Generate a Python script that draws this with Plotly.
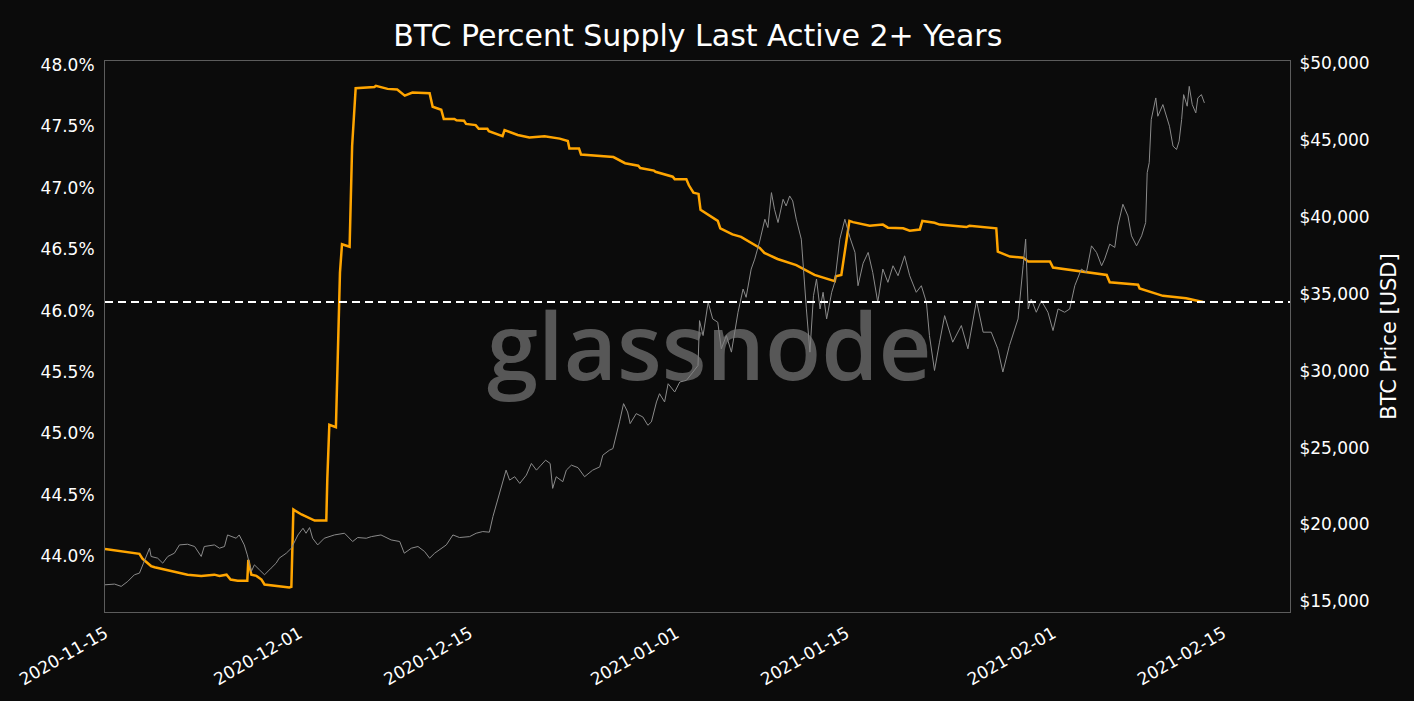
import pandas as pd
import plotly.graph_objects as go

# ---------------- data ----------------
supply_dates = [
    "2020-11-15 00:00", "2020-11-17 20:00", "2020-11-18 02:00", "2020-11-18 19:00", "2020-11-19 02:00",
    "2020-11-21 19:00", "2020-11-22 22:00", "2020-11-24 00:00", "2020-11-24 10:00", "2020-11-25 00:00",
    "2020-11-25 08:00", "2020-11-25 22:00", "2020-11-26 17:00", "2020-11-26 19:00", "2020-11-27 01:00",
    "2020-11-27 11:00", "2020-11-27 21:00", "2020-11-28 03:00", "2020-11-30 04:00", "2020-11-30 08:00",
    "2020-11-30 12:00", "2020-12-01 04:00", "2020-12-02 06:00", "2020-12-03 05:00", "2020-12-03 07:00",
    "2020-12-03 11:00", "2020-12-04 00:00", "2020-12-04 04:00", "2020-12-04 07:00", "2020-12-04 08:00",
    "2020-12-04 12:00", "2020-12-05 03:00", "2020-12-05 08:00", "2020-12-05 15:00", "2020-12-07 04:00",
    "2020-12-07 07:00", "2020-12-08 06:00", "2020-12-09 01:00", "2020-12-09 16:00", "2020-12-10 07:00",
    "2020-12-11 17:00", "2020-12-11 23:00", "2020-12-12 16:00", "2020-12-12 21:00", "2020-12-13 18:00",
    "2020-12-13 22:00", "2020-12-14 13:00", "2020-12-14 17:00", "2020-12-15 12:00", "2020-12-15 18:00",
    "2020-12-16 11:00", "2020-12-16 14:00", "2020-12-17 17:00", "2020-12-17 21:00", "2020-12-18 23:00",
    "2020-12-19 22:00", "2020-12-21 04:00", "2020-12-22 10:00", "2020-12-23 02:00", "2020-12-23 05:00",
    "2020-12-24 00:00", "2020-12-24 04:00", "2020-12-26 20:00", "2020-12-27 19:00", "2020-12-28 21:00",
    "2020-12-29 01:00", "2020-12-30 04:00", "2020-12-30 07:00", "2020-12-31 17:00", "2020-12-31 21:00",
    "2021-01-01 20:00", "2021-01-02 01:00", "2021-01-02 10:00", "2021-01-02 20:00", "2021-01-03 00:00",
    "2021-01-04 10:00", "2021-01-04 15:00", "2021-01-05 15:00", "2021-01-06 08:00", "2021-01-07 07:00",
    "2021-01-07 21:00", "2021-01-08 06:00", "2021-01-09 08:00", "2021-01-10 21:00", "2021-01-12 09:00",
    "2021-01-14 01:00", "2021-01-14 03:00", "2021-01-14 14:00", "2021-01-15 06:00", "2021-01-15 13:00",
    "2021-01-16 15:00", "2021-01-16 22:00", "2021-01-18 00:00", "2021-01-18 10:00", "2021-01-19 16:00",
    "2021-01-20 05:00", "2021-01-21 01:00", "2021-01-21 06:00", "2021-01-22 06:00", "2021-01-22 16:00",
    "2021-01-24 21:00", "2021-01-25 03:00", "2021-01-27 08:00", "2021-01-27 11:00", "2021-01-28 11:00",
    "2021-01-29 13:00", "2021-01-29 23:00", "2021-01-31 18:00", "2021-02-01 00:00", "2021-02-03 05:00",
    "2021-02-04 14:00", "2021-02-05 10:00", "2021-02-05 16:00", "2021-02-08 00:00", "2021-02-08 03:00",
    "2021-02-10 01:00", "2021-02-11 23:00", "2021-02-13 08:00",
]
supply_pct = [
    44.06, 44.02, 43.98, 43.92, 43.91,
    43.85, 43.84, 43.85, 43.84, 43.85,
    43.81, 43.80, 43.80, 43.97, 43.85,
    43.84, 43.81, 43.77, 43.745, 43.75,
    44.38, 44.34, 44.29, 44.29, 44.63,
    45.07, 45.05, 45.75, 46.07, 46.31,
    46.54, 46.52, 47.34, 47.81, 47.82,
    47.83, 47.805, 47.80, 47.75, 47.775,
    47.77, 47.66, 47.635, 47.56, 47.56,
    47.55, 47.545, 47.52, 47.51, 47.48,
    47.48, 47.46, 47.42, 47.47, 47.43,
    47.41, 47.42, 47.40, 47.38, 47.32,
    47.32, 47.27, 47.25, 47.20, 47.18,
    47.16, 47.14, 47.13, 47.09, 47.07,
    47.07, 47.02, 46.96, 46.95, 46.82,
    46.73, 46.67, 46.62, 46.60, 46.54,
    46.51, 46.47, 46.42, 46.37, 46.29,
    46.24, 46.28, 46.29, 46.73, 46.72,
    46.70, 46.69, 46.70, 46.675, 46.67,
    46.65, 46.66, 46.73, 46.715, 46.70,
    46.68, 46.69, 46.67, 46.48, 46.44,
    46.43, 46.40, 46.40, 46.35, 46.32,
    46.30, 46.29, 46.23, 46.21, 46.18,
    46.12, 46.10, 46.07,
]

# BTC price: hours after 2020-11-15 00:00 and USD value
price_hours = [
    0, 19, 32, 45, 58, 68, 76, 84, 88, 91, 104, 114, 124, 137, 147, 163, 177, 190, 196, 216,
    226, 236, 242, 259, 265, 275, 281, 289, 295, 305, 315, 328, 338, 344, 358, 368, 381, 391, 397, 404,
    410, 420, 433, 453, 473, 489, 499, 516, 526, 545, 565, 582, 591, 605, 618, 631, 641, 651, 661, 674,
    687, 700, 720, 733, 746, 759, 766, 776, 786, 792, 799, 809, 819, 832, 842, 852, 861, 870, 879, 884,
    891, 904, 911, 921, 934, 947, 963, 977, 983, 996, 1003, 1010, 1016, 1024, 1032, 1037, 1049, 1062, 1072, 1079,
    1089, 1095, 1105, 1112, 1125, 1135, 1148, 1161, 1171, 1174, 1181, 1191, 1200, 1210, 1217, 1227, 1237, 1250, 1260, 1266,
    1276, 1283, 1293, 1303, 1309, 1316, 1322, 1329, 1339, 1345, 1352, 1358, 1365, 1375, 1382, 1385, 1392, 1399, 1405, 1412,
    1418, 1425, 1435, 1441, 1451, 1461, 1471, 1481, 1487, 1497, 1507, 1516, 1526, 1536, 1546, 1556, 1566, 1579, 1589, 1602,
    1612, 1622, 1628, 1638, 1648, 1658, 1674, 1691, 1704, 1721, 1734, 1750, 1763, 1773, 1786, 1803, 1813, 1818, 1823, 1829,
    1839, 1849, 1862, 1872, 1882, 1895, 1905, 1915, 1928, 1938, 1948, 1958, 1968, 1974, 1984, 1994, 2000, 2010, 2020, 2027,
    2037, 2047, 2055, 2058, 2062, 2066, 2075, 2079, 2089, 2096, 2102, 2109, 2116, 2121, 2126, 2130, 2137, 2141, 2147, 2154,
    2158, 2165, 2171,
]
price_usd = [
    16077, 16122, 15973, 16297, 16726, 16836, 17485, 18133, 18458, 17919, 17809, 17485, 17919, 18133, 18672, 18717, 18568, 17919, 18568, 18672,
    18458, 18568, 19320, 19106, 19320, 18672, 18023, 16946, 17374, 17050, 16726, 17160, 17485, 17809, 18133, 18458, 19320, 19755, 19431, 19800,
    19106, 18672, 19106, 19320, 19431, 18892, 19152, 19106, 19212, 19320, 18996, 18892, 18133, 18458, 18568, 18244, 17809, 18133, 18347, 18672,
    19320, 19152, 19212, 19431, 19541, 19500, 20514, 21701, 22998, 23537, 22890, 23109, 22674, 23213, 23972, 23537, 23862, 24186, 23972, 22350,
    23109, 22785, 23537, 23862, 23700, 23109, 23537, 23750, 24510, 24834, 24940, 25807, 26677, 27864, 27323, 26566, 27215, 27000, 26456, 26677,
    27974, 28512, 27974, 29161, 28623, 29271, 29380, 29920, 30349, 33268, 32295, 34461, 33378, 33163, 31432, 32295, 31217, 33812, 35324, 34785,
    36622, 37270, 38457, 39865, 39325, 41596, 40514, 39650, 41163, 40730, 41380, 41055, 39865, 38568, 35110, 34027, 31217, 34890, 35973, 34027,
    35110, 33378, 35110, 35758, 38568, 39865, 38677, 37705, 35538, 37000, 37705, 36406, 34461, 36622, 35758, 36838, 36189, 37484, 36189, 35110,
    35538, 34461, 32295, 30024, 31865, 33592, 31865, 32946, 31432, 34565, 32515, 32515, 31432, 29920, 31647, 33378, 36838, 38568, 34027, 34675,
    33812, 34565, 33812, 32620, 34027, 33812, 34027, 35538, 36622, 36406, 38133, 37700, 36838, 37270, 38244, 38030, 39430, 40838, 40080, 38784,
    38133, 38784, 39650, 42894, 43543, 46351, 47759, 46567, 47326, 46567, 45918, 44621, 44405, 44945, 46351, 47974, 47220, 48512, 47326, 46787,
    47759, 47974, 47434,
]

x_tick_vals = ["2020-11-15", "2020-12-01", "2020-12-15", "2021-01-01", "2021-01-15", "2021-02-01", "2021-02-15"]
left_tick_vals = [44.0, 44.5, 45.0, 45.5, 46.0, 46.5, 47.0, 47.5, 48.0]
right_tick_vals = [15000, 20000, 25000, 30000, 35000, 40000, 45000, 50000]

# ---------------- figure ----------------
BG = "#0b0b0b"
FONT = "DejaVu Sans"

price_time = pd.Timestamp("2020-11-15") + pd.to_timedelta(price_hours, unit="h")

fig = go.Figure()
fig.add_trace(go.Scatter(
    x=price_time, y=price_usd, yaxis="y2", mode="lines",
    line=dict(color="#8a8a8a", width=1), hoverinfo="skip", showlegend=False,
))
fig.add_trace(go.Scatter(
    x=pd.to_datetime(supply_dates), y=supply_pct, mode="lines",
    line=dict(color="#FFA500", width=2.5), showlegend=False,
))

fig.add_shape(type="line", xref="paper", x0=0, x1=1, yref="y",
              y0=supply_pct[-1], y1=supply_pct[-1],
              line=dict(color="white", width=2, dash="8px,5px"))

fig.add_annotation(text="glassnode", xref="paper", yref="paper", x=0.51, y=0.486,
                   showarrow=False, xanchor="center", yanchor="middle",
                   font=dict(family="Open Sans", size=92, weight=600, color="rgba(128,128,128,0.66)"))

fig.update_layout(
    width=1414, height=701,
    paper_bgcolor=BG, plot_bgcolor=BG,
    margin=dict(l=105, r=124, t=61, b=87),
    font=dict(family=FONT, color="white", size=17),
    title=dict(text="BTC Percent Supply Last Active 2+ Years", x=0.4935, xanchor="center",
               y=0.95, yanchor="middle", font=dict(size=30, family=FONT, color="white")),
    xaxis=dict(
        type="date", range=["2020-11-15", "2021-02-20 12:00"],
        tickvals=x_tick_vals, tickformat="%Y-%m-%d", tickangle=-30,
        showgrid=False, zeroline=False,
        showline=True, linecolor="#5c5c5c", linewidth=1, mirror=True,
        ticks="outside", ticklen=4, tickcolor=BG,
        tickfont=dict(size=17, family=FONT, color="white"),
    ),
    yaxis=dict(
        range=[43.546, 48.032], tickvals=left_tick_vals,
        ticktext=[f"{v:.1f}%" for v in left_tick_vals],
        showgrid=False, zeroline=False,
        showline=True, linecolor="#5c5c5c", linewidth=1, mirror=True,
        ticks="outside", ticklen=6, tickcolor=BG,
        tickfont=dict(size=17, family=FONT, color="white"),
    ),
    yaxis2=dict(
        overlaying="y", side="right", range=[14306, 50162],
        tickvals=right_tick_vals,
        ticktext=[f"${v:,d}" for v in right_tick_vals],
        showgrid=False, zeroline=False, showline=False,
        ticks="outside", ticklen=5, tickcolor=BG,
        tickfont=dict(size=17, family=FONT, color="white"),
        title=dict(text="BTC Price [USD]", font=dict(size=21, family=FONT, color="white"), standoff=12),
    ),
)

fig.write_html("out.html")
